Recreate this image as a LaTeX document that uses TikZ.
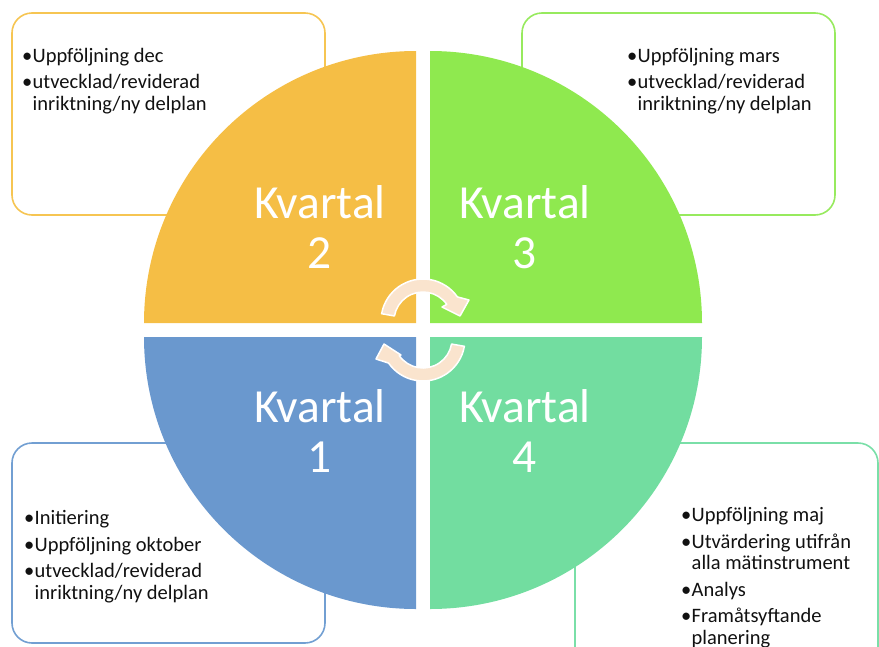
\documentclass[tikz,border=0pt]{standalone}
\usepackage{fontspec}
\setmainfont{Carlito}
\usetikzlibrary{calc}
\definecolor{qyellow}{HTML}{F5BE45}
\definecolor{qgreen}{HTML}{8FE94F}
\definecolor{qblue}{HTML}{6A98CE}
\definecolor{qteal}{HTML}{72DDA0}
\definecolor{byellow}{HTML}{F6C552}
\definecolor{bgreen}{HTML}{97EA5E}
\definecolor{bblue}{HTML}{729FD2}
\definecolor{bteal}{HTML}{7ADFA8}
\definecolor{arrowc}{HTML}{FAE4CE}
\definecolor{txt}{HTML}{111111}
\newcommand{\Bul}{\makebox[10.5pt][l]{•}}
\newcommand{\Ind}{\hspace*{10.5pt}}
\begin{document}
\begin{tikzpicture}[x=1pt,y=-1pt,
  infobox/.style={line width=1.6pt, rounded corners=20pt, fill=white},
  listtext/.style={anchor=base west, align=left, inner sep=0pt, text=txt,
    font=\fontsize{20.5}{21.5}\selectfont},
  kvtext/.style={align=center, inner sep=0pt, text=white,
    font=\fontsize{47.5}{50}\selectfont},
  cyc/.style={fill=arrowc, draw=white, line width=1.5pt, line join=round}]
\useasboundingbox (0,0) rectangle (879,646);
\clip (0,0) rectangle (879,646);
% boxes
\draw[infobox, draw=byellow] (12,13) rectangle (325,215);
\draw[infobox, draw=bgreen] (522,13) rectangle (835,215);
\draw[infobox, draw=bblue] (12,443) rectangle (325,643);
\draw[infobox, draw=bteal] (575,443) rectangle (878,670);
% quadrants
\fill[qyellow] (416,323) -- (144,323) arc[start angle=180, end angle=270, radius=272] -- cycle;
\fill[qgreen] (430,323) -- (430,51) arc[start angle=270, end angle=360, radius=272] -- cycle;
\fill[qteal] (430,337) -- (702,337) arc[start angle=0, end angle=90, radius=272] -- cycle;
\fill[qblue] (416,337) -- (416,609) arc[start angle=90, end angle=180, radius=272] -- cycle;
% quadrant labels (base = baseline of the last line)
\node[kvtext, anchor=base] (k2) at (320,268) {Kvartal\\2};
\node[kvtext, anchor=base] (k3) at (525,268) {Kvartal\\3};
\node[kvtext, anchor=base] (k1) at (320,472) {Kvartal\\1};
\node[kvtext, anchor=base] (k4) at (525,472) {Kvartal\\4};
% cycle arrows
\coordinate (ct) at (423,321);
\coordinate (cb) at (423,339);
\draw[cyc] ($(ct)+(190:42)$) arc[start angle=190, end angle=325, radius=42]
  -- (469,300) -- (460,316) -- (442,307)
  -- ($(ct)+(325:29)$) arc[start angle=325, end angle=190, radius=29] -- cycle;
\draw[cyc] ($(cb)+(10:42)$) arc[start angle=10, end angle=145, radius=42]
  -- (376,359) -- (384,344) -- (401,355)
  -- ($(cb)+(145:29)$) arc[start angle=145, end angle=10, radius=29] -- cycle;
% lists (base = baseline of the last line)
\node[listtext] (t2) at (22,110) {\Bul Uppföljning dec\\[5pt]\Bul utvecklad/reviderad\\\Ind inriktning/ny delplan};
\node[listtext] (t3) at (627,110) {\Bul Uppföljning mars\\[5pt]\Bul utvecklad/reviderad\\\Ind inriktning/ny delplan};
\node[listtext] (t1) at (24,599) {\Bul Initiering\\[5pt]\Bul Uppföljning oktober\\[5pt]\Bul utvecklad/reviderad\\\Ind inriktning/ny delplan};
\node[listtext] (t4) at (681,644) {\Bul Uppföljning maj\\[5pt]\Bul Utvärdering utifrån\\\Ind alla mätinstrument\\[5pt]\Bul Analys\\[5pt]\Bul Framåtsyftande\\\Ind planering};
\end{tikzpicture}
\end{document}
